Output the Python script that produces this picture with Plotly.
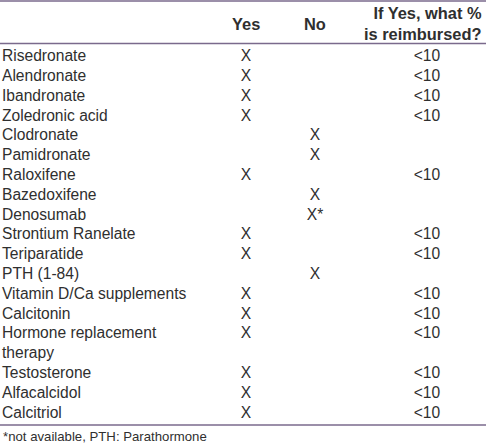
import plotly.graph_objects as go

drugs = ["Risedronate", "Alendronate", "Ibandronate", "Zoledronic acid", "Clodronate",
         "Pamidronate", "Raloxifene", "Bazedoxifene", "Denosumab", "Strontium Ranelate",
         "Teriparatide", "PTH (1-84)", "Vitamin D/Ca supplements", "Calcitonin",
         "Hormone replacement", "therapy", "Testosterone", "Alfacalcidol", "Calcitriol"]
yes_col = ["X", "X", "X", "X", "", "", "X", "", "", "X", "X", "", "X", "X", "X", "", "X", "X", "X"]
no_col = ["", "", "", "", "X", "X", "", "X", "X*", "", "", "X", "", "", "", "", "", "", ""]
pct_col = ["<10", "<10", "<10", "<10", "", "", "<10", "", "", "<10", "<10", "", "<10", "<10",
           "<10", "", "<10", "<10", "<10"]
headers = ["", "Yes", "No", "If Yes, what %<br>is reimbursed?"]
footnote = "*not available, PTH: Parathormone"

W, H = 486, 447
ROW0, STEP = 57.3, 19.8
TXT = "#2f2f2f"
LINE = "#7a6a8c"
FONT = "Liberation Sans, Arial, sans-serif"

rows = list(range(len(drugs)))
fig = go.Figure()

def col_trace(xpx, vals, pos):
    fig.add_trace(go.Scatter(
        x=[xpx] * len(vals), y=rows, text=vals, mode="text",
        textposition=pos, textfont=dict(family=FONT, size=15.6, color=TXT),
        hoverinfo="skip", showlegend=False, cliponaxis=False))

col_trace(2, drugs, "middle right")
col_trace(246, yes_col, "middle center")
col_trace(315, no_col, "middle center")
col_trace(427, pct_col, "middle center")

def ypx(p):
    return (p - ROW0) / STEP

# header
for xpx, txt, anchor in [(246, headers[1], "center"), (315, headers[2], "center"), (484, headers[3], "right")]:
    fig.add_annotation(x=xpx, y=ypx(23.5), text="<b>%s</b>" % txt, showarrow=False,
                       xanchor=anchor, yanchor="middle", align=anchor,
                       font=dict(family=FONT, size=16.4, color=TXT))

fig.add_annotation(x=1, y=ypx(436.5), text=footnote, showarrow=False, xanchor="left",
                   yanchor="middle", font=dict(family=FONT, size=13.2, color=TXT))

for yp in [1, 43.5, 425]:
    fig.add_shape(type="line", x0=0, x1=W, y0=ypx(yp), y1=ypx(yp),
                  line=dict(color=LINE, width=1.6))

fig.update_layout(
    width=W, height=H, margin=dict(l=0, r=0, t=0, b=0),
    paper_bgcolor="white", plot_bgcolor="white",
    xaxis=dict(range=[0, W], visible=False, fixedrange=True),
    yaxis=dict(range=[ypx(H), ypx(0)], visible=False, fixedrange=True),
)
fig.write_html("out.html", config={"displayModeBar": False},
               post_script="document.body.style.margin='0px';document.body.style.overflow='hidden';")
